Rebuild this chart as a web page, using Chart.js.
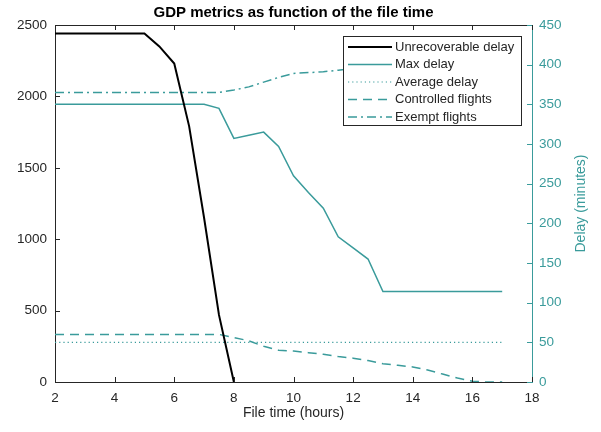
<!DOCTYPE html>
<html lang="en">
<head>
<meta charset="UTF-8">
<script src="https://cdn.jsdelivr.net/npm/chart.js"></script>
<title>GDP metrics as function of the file time</title>
<style>
    html, body { margin: 0; padding: 0; background: #fff; }
</style>
</head>
<body>

<canvas id="gdpChart" width="601" height="432"></canvas>

<script>
    // file time (hours), one value every half hour
    var hours = [2, 2.5, 3, 3.5, 4, 4.5, 5, 5.5, 6, 6.5, 7, 7.5, 8, 8.5, 9, 9.5,
                 10, 10.5, 11, 11.5, 12, 12.5, 13, 13.5, 14, 14.5, 15, 15.5, 16, 16.5, 17];

    // left axis
    var unrecoverableDelay = [2440, 2440, 2440, 2440, 2440, 2440, 2440, 2350, 2230, 1790, 1150, 470, 0,
                              null, null, null, null, null, null, null, null, null, null, null, null,
                              null, null, null, null, null, null];

    // right axis (minutes)
    var maxDelay = [350, 350, 350, 350, 350, 350, 350, 350, 350, 350, 350, 345, 307, 311, 315, 297,
                    260, 239, 219, 183, 169, 155, 114, 114, 114, 114, 114, 114, 114, 114, 114];
    var averageDelay = [50, 50, 50, 50, 50, 50, 50, 50, 50, 50, 50, 50, 50, 50, 50, 50,
                        50, 50, 50, 50, 50, 50, 50, 50, 50, 50, 50, 50, 50, 50, 50];
    var controlledFlights = [60, 60, 60, 60, 60, 60, 60, 60, 60, 60, 60, 60, 56, 52, 45, 40,
                             39, 37, 35, 32, 30, 27, 23, 21, 19, 15, 10, 5, 1, 0, 0];
    var exemptFlights = [365, 365, 365, 365, 365, 365, 365, 365, 365, 365, 365, 365, 368, 372, 378, 384,
                         389, 390, 391, 393, 395, null, null, null, null, null, null, null, null, null, null];

    var xTicks = [2, 4, 6, 8, 10, 12, 14, 16, 18];

    var TEAL = '#3a9b9b';
    var INK = '#262626';
    var FONT = "'Liberation Sans', Arial, sans-serif";

    function toPoints(values) {
        return hours.map(function (h, i) { return { x: h, y: values[i] }; });
    }

    function plainLabel(value) {
        return String(value);
    }

    // MATLAB-like frame: inward ticks, top border, boxed legend inside the axes, titles
    var matlabFrame = {
        id: 'matlabFrame',
        afterDatasetsDraw: function (chart) {
            var ctx = chart.ctx;
            var a = chart.chartArea;
            var xs = chart.scales.x, yl = chart.scales.y, yr = chart.scales.y1;
            ctx.save();
            ctx.lineWidth = 1;

            // top border
            ctx.strokeStyle = INK;
            ctx.beginPath();
            ctx.moveTo(a.left, a.top + 0.5);
            ctx.lineTo(a.right, a.top + 0.5);
            ctx.stroke();

            // x ticks, bottom and top
            xs.ticks.forEach(function (t) {
                var px = Math.round(xs.getPixelForValue(t.value)) + 0.5;
                ctx.beginPath();
                ctx.moveTo(px, a.bottom); ctx.lineTo(px, a.bottom - 5);
                ctx.moveTo(px, a.top); ctx.lineTo(px, a.top + 5);
                ctx.stroke();
            });
            // left ticks
            yl.ticks.forEach(function (t) {
                var py = Math.round(yl.getPixelForValue(t.value)) + 0.5;
                ctx.beginPath();
                ctx.moveTo(a.left, py); ctx.lineTo(a.left + 5, py);
                ctx.stroke();
            });
            // right ticks
            ctx.strokeStyle = TEAL;
            yr.ticks.forEach(function (t) {
                var py = Math.round(yr.getPixelForValue(t.value)) + 0.5;
                ctx.beginPath();
                ctx.moveTo(a.right, py); ctx.lineTo(a.right - 5, py);
                ctx.stroke();
            });

            // legend box
            var lx = 343, ly = 36, lw = 178, lh = 89;
            ctx.fillStyle = '#fff';
            ctx.fillRect(lx, ly, lw, lh);
            ctx.strokeStyle = INK;
            ctx.strokeRect(lx + 0.5, ly + 0.5, lw, lh);
            ctx.font = '13px ' + FONT;
            ctx.textBaseline = 'middle';
            chart.data.datasets.forEach(function (ds, i) {
                var rowY = ly + 11 + i * 17.5;
                ctx.strokeStyle = ds.borderColor;
                ctx.lineWidth = ds.borderWidth;
                ctx.setLineDash(ds.borderDash || []);
                ctx.beginPath();
                ctx.moveTo(lx + 5, rowY);
                ctx.lineTo(lx + 49, rowY);
                ctx.stroke();
                ctx.setLineDash([]);
                ctx.fillStyle = INK;
                ctx.fillText(ds.label, lx + 52, rowY);
            });
            ctx.restore();
        },
        afterDraw: function (chart) {
            var ctx = chart.ctx;
            var a = chart.chartArea;
            ctx.save();
            ctx.textAlign = 'center';
            ctx.textBaseline = 'middle';
            ctx.fillStyle = '#000';
            ctx.font = 'bold 15px ' + FONT;
            ctx.fillText('GDP metrics as function of the file time', (a.left + a.right) / 2, 13);

            ctx.fillStyle = TEAL;
            ctx.font = '14px ' + FONT;
            ctx.translate(581, (a.top + a.bottom) / 2);
            ctx.rotate(-Math.PI / 2);
            ctx.fillText('Delay (minutes)', 0, 0);
            ctx.restore();
        }
    };

    var ctx = document.getElementById('gdpChart').getContext('2d');
    var gdpChart = new Chart(ctx, {
        type: 'line',
        data: {
            datasets: [{
                label: 'Unrecoverable delay',
                data: toPoints(unrecoverableDelay),
                yAxisID: 'y',
                borderColor: '#000',
                borderWidth: 2
            }, {
                label: 'Max delay',
                data: toPoints(maxDelay),
                yAxisID: 'y1',
                borderColor: TEAL,
                borderWidth: 1.5
            }, {
                label: 'Average delay',
                data: toPoints(averageDelay),
                yAxisID: 'y1',
                borderColor: TEAL,
                borderWidth: 1.2,
                borderDash: [1.2, 3]
            }, {
                label: 'Controlled flights',
                data: toPoints(controlledFlights),
                yAxisID: 'y1',
                borderColor: TEAL,
                borderWidth: 1.5,
                borderDash: [9, 6]
            }, {
                label: 'Exempt flights',
                data: toPoints(exemptFlights),
                yAxisID: 'y1',
                borderColor: TEAL,
                borderWidth: 1.5,
                borderDash: [9, 4, 2, 4]
            }]
        },
        options: {
            responsive: false,
            animation: false,
            layout: { padding: { top: 25 } },
            elements: {
                point: { radius: 0, hoverRadius: 0 },
                line: { tension: 0, fill: false }
            },
            plugins: {
                legend: { display: false },
                tooltip: { enabled: false }
            },
            scales: {
                x: {
                    type: 'linear',
                    min: 2,
                    max: 18,
                    afterBuildTicks: function (scale) {
                        scale.ticks = xTicks.map(function (v) { return { value: v }; });
                    },
                    afterFit: function (scale) { scale.height = 50; },
                    grid: { display: false, drawTicks: false },
                    border: { color: INK, width: 1 },
                    ticks: { color: INK, padding: 8, font: { family: FONT, size: 13.5 }, maxRotation: 0, callback: plainLabel },
                    title: {
                        display: true,
                        text: 'File time (hours)',
                        color: INK,
                        font: { family: FONT, size: 14 },
                        padding: { top: 0, bottom: 10 }
                    }
                },
                y: {
                    position: 'left',
                    min: 0,
                    max: 2500,
                    afterFit: function (scale) { scale.width = 55; },
                    grid: { display: false, drawTicks: false },
                    border: { color: INK, width: 1 },
                    ticks: { stepSize: 500, color: INK, padding: 8, font: { family: FONT, size: 13.5 }, callback: plainLabel }
                },
                y1: {
                    position: 'right',
                    min: 0,
                    max: 450,
                    afterFit: function (scale) { scale.width = 69; },
                    grid: { display: false, drawTicks: false },
                    border: { color: TEAL, width: 1 },
                    ticks: { stepSize: 50, color: TEAL, padding: 7, font: { family: FONT, size: 13.5 }, callback: plainLabel }
                }
            }
        },
        plugins: [matlabFrame]
    });
</script>

</body>
</html>
